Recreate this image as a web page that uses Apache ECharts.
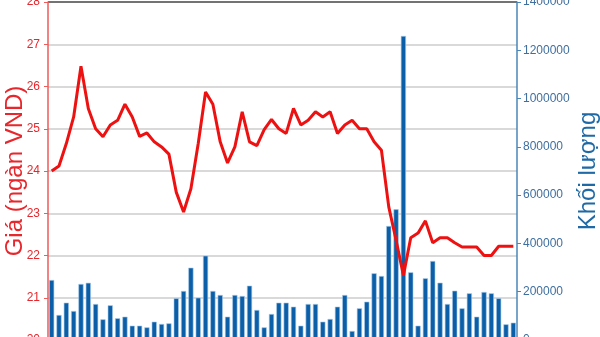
<!DOCTYPE html>
<html><head><meta charset="utf-8">
<script src="https://cdn.jsdelivr.net/npm/echarts@6/dist/echarts.min.js"></script>
<style>html,body{margin:0;padding:0;background:#fff}#c{width:600px;height:337px}</style>
</head><body><div id="c"></div>
<script>
var categories = [];
for (var k = 1; k <= 64; k++) categories.push('P' + k);

var price = [24.0,24.12,24.65,25.28,26.48,25.48,25.0,24.81,25.09,25.2,25.58,25.28,24.82,24.9,24.69,24.57,24.4,23.5,23.03,23.58,24.65,25.87,25.58,24.69,24.19,24.57,25.4,24.69,24.6,24.98,25.22,25.0,24.89,25.48,25.09,25.2,25.4,25.28,25.4,24.89,25.09,25.2,25.0,25.0,24.69,24.49,23.15,22.36,21.53,22.42,22.53,22.82,22.3,22.42,22.42,22.3,22.2,22.2,22.2,22.0,22.0,22.22,22.22,22.22];

var volume = [248500,103600,154500,120000,232000,237000,149000,85700,143700,90000,96600,59300,59300,52400,75900,66300,69000,172700,203000,299500,175200,349200,203000,186400,96600,186400,182200,225000,124300,52400,107700,154500,154500,138000,59300,149000,149000,75900,87000,138000,186400,37300,131300,158600,276300,265000,472200,541300,1259200,280400,59300,255600,327200,237300,149000,204200,131300,193400,96600,198800,193400,172700,65000,71700];

var leftName = 'Giá (ngàn VND)';
var rightName = 'Khối lượng';

var chart = echarts.init(document.getElementById('c'));
var gridColors = ['#cccccc','#cccccc','#cccccc','#cccccc','#cccccc','#cccccc','#cccccc','#cccccc','#444444'];
chart.setOption({
  animation: false,
  textStyle: {fontFamily: 'Liberation Sans, Arial, sans-serif'},
  grid: {left: 48, right: 83, top: 2, height: 338, containLabel: false, outerBoundsMode: 'none'},
  xAxis: {type: 'category', data: categories, axisLabel: {show: false}, axisTick: {show: false}, axisLine: {show: false}},
  yAxis: [{
    type: 'value', min: 20, max: 28, interval: 1, position: 'left',
    name: leftName, nameLocation: 'middle', nameRotate: 90, nameGap: 21, nameMoveOverlap: false,
    nameTextStyle: {color: '#e8262b', fontSize: 24, fontFamily: 'Liberation Sans, Arial, sans-serif'},
    axisLine: {show: true, lineStyle: {color: '#ef5a5a', width: 1.5}},
    axisTick: {show: true, length: 4, lineStyle: {color: '#ef5a5a'}},
    axisLabel: {color: '#e8262b', fontSize: 12, margin: 8},
    splitLine: {show: true, lineStyle: {color: gridColors, width: 1.5}}
  }, {
    type: 'value', min: 0, max: 1400000, interval: 200000, position: 'right',
    name: rightName, nameLocation: 'middle', nameRotate: 90, nameGap: 59, nameMoveOverlap: false,
    nameTextStyle: {color: '#1f6aa6', fontSize: 24, fontFamily: 'Liberation Sans, Arial, sans-serif'},
    axisLine: {show: true, lineStyle: {color: '#4a86b8', width: 1.5}},
    axisTick: {show: true, length: 4, lineStyle: {color: '#4a86b8'}},
    axisLabel: {color: '#3f6f9f', fontSize: 12, margin: 6, formatter: function (v) { return String(v); }},
    splitLine: {show: false}
  }],
  series: [{
    type: 'bar', yAxisIndex: 1, data: volume, barCategoryGap: '30%',
    itemStyle: {color: '#0b5ea8', borderColor: '#a9cbe8', borderWidth: 0.6}
  }, {
    type: 'line', yAxisIndex: 0, data: price, symbol: 'none', z: 5,
    lineStyle: {color: '#ee1111', width: 3}
  }]
});
</script>
</body></html>
